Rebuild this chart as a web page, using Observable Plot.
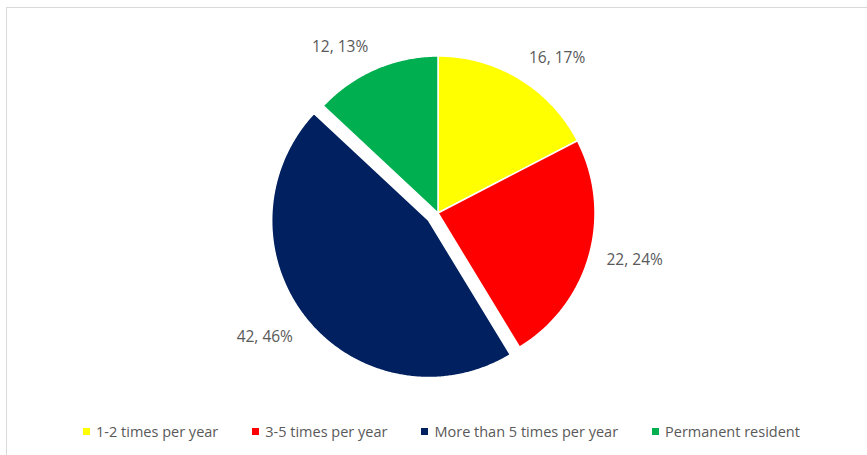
<!DOCTYPE html>
<html><head><meta charset="utf-8">
<script src="https://cdn.jsdelivr.net/npm/d3@7"></script>
<script src="https://cdn.jsdelivr.net/npm/@observablehq/plot@0.6"></script>
<style>
html,body{margin:0;padding:0;background:#fff;overflow:hidden;width:867px;height:455px;}
#frame{position:absolute;left:6px;top:7px;width:1000px;height:1000px;border:1px solid #d9d9d9;pointer-events:none;}
#chart{position:absolute;left:0;top:0;}
#legend{position:absolute;left:0;top:411px;width:867px;height:40px;display:flex;justify-content:center;padding-left:16px;box-sizing:border-box;}
#legend .lg-swatches{font-family:"Open Sans",sans-serif;font-size:14.5px;color:#595959;margin:0;}
#legend .lg-swatch{margin-right:34px;}
#legend .lg-swatch:last-child{margin-right:0;}
#legend .lg-swatch > svg{margin-right:6px;}
</style></head><body>
<div id="chart"></div>
<div id="legend"></div>
<div id="frame"></div>
<script>
const categories = ["1-2 times per year", "3-5 times per year", "More than 5 times per year", "Permanent resident"];
const counts = [16, 22, 42, 12];
const percents = [17, 24, 46, 13];
const colors = ["#FFFF00", "#FF0000", "#002060", "#00B050"];
const exploded = [false, false, true, false];

const W = 867, H = 411;
const cx = 437.5, cy = 212.5;
const R = 157, EXPLODE = 12, LABEL_GAP = 18;

const arcs = d3.pie().sort(null).value(d => d)(counts);

const slices = arcs.map((a, i) => {
  const mid = (a.startAngle + a.endAngle) / 2;
  const off = exploded[i] ? EXPLODE : 0;
  const ox = Math.sin(mid) * off, oy = -Math.cos(mid) * off;
  const pts = [{x: ox, y: oy}];
  const n = Math.max(2, Math.ceil((a.endAngle - a.startAngle) / (Math.PI / 360)));
  for (let k = 0; k <= n; k++) {
    const t = a.startAngle + (a.endAngle - a.startAngle) * k / n;
    pts.push({x: ox + Math.sin(t) * R, y: oy - Math.cos(t) * R});
  }
  pts.push({x: ox, y: oy});
  const dx = Math.sin(mid), dy = -Math.cos(mid);
  const label = {
    x: ox + dx * (R + LABEL_GAP),
    y: oy + dy * (R + LABEL_GAP),
    text: `${counts[i]}, ${percents[i]}%`,
    textAnchor: dx > 0.05 ? "start" : dx < -0.05 ? "end" : "middle",
    lineAnchor: dy < -0.5 ? "bottom" : dy > 0.5 ? "top" : "middle"
  };
  return {pts, color: colors[i], label};
});

const marks = [];
slices.forEach(s => {
  marks.push(Plot.line(s.pts, {x: "x", y: "y", fill: s.color, stroke: "white", strokeWidth: 1.5, curve: "linear"}));
});
slices.forEach(s => {
  marks.push(Plot.text([s.label], {x: "x", y: "y", text: "text", textAnchor: s.label.textAnchor, lineAnchor: s.label.lineAnchor,
    fill: "#595959", fontSize: 15.5, fontFamily: "Open Sans"}));
});

const plot = Plot.plot({
  width: W, height: H, margin: 0,
  x: {domain: [-cx, W - cx], range: [0, W], axis: null},
  y: {domain: [-cy, H - cy], range: [0, H], axis: null},
  marks
});
document.getElementById("chart").appendChild(plot);

const legend = Plot.legend({
  color: {domain: categories, range: colors, type: "ordinal"},
  legend: "swatches", swatchSize: 7, className: "lg"
});
document.getElementById("legend").appendChild(legend);
</script>
</body></html>
